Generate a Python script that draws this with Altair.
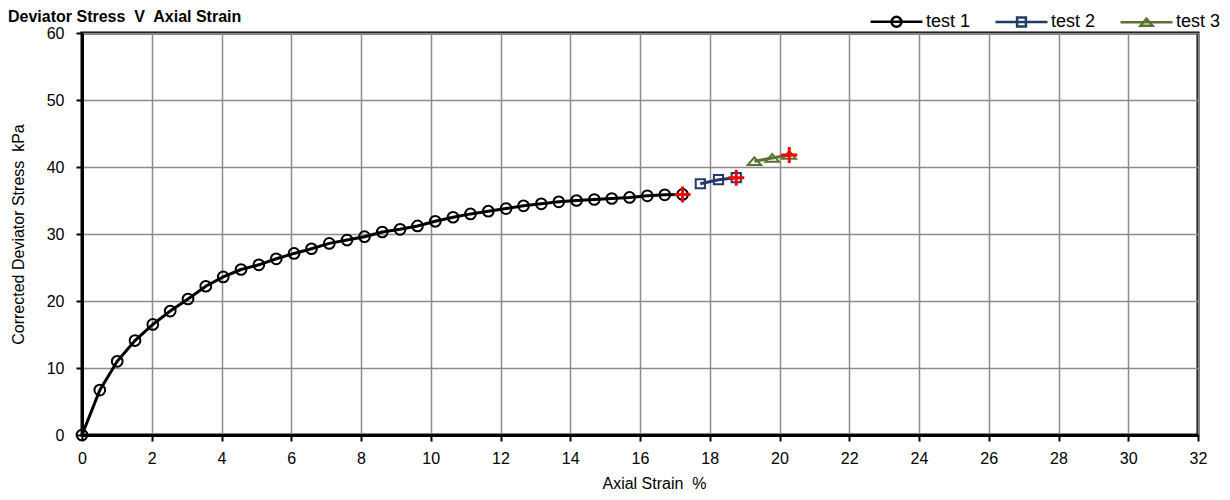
import altair as alt
import pandas as pd

# ---- data ----
chart_title = "Deviator Stress\u00a0 V\u00a0 Axial Strain"
series_names = ["test 1", "test 2", "test 3"]
series_colors = ["#000000", "#1F3B66", "#5A7332"]

strain_1 = [0.00, 0.51, 1.01, 1.52, 2.03, 2.53, 3.04, 3.55, 4.05, 4.56, 5.07, 5.57,
            6.08, 6.58, 7.09, 7.60, 8.10, 8.61, 9.12, 9.62, 10.13, 10.64, 11.14,
            11.65, 12.16, 12.66, 13.17, 13.67, 14.18, 14.69, 15.19, 15.70, 16.21,
            16.71, 17.22]
stress_1 = [0.0, 6.7, 11.0, 14.1, 16.5, 18.5, 20.3, 22.2, 23.6, 24.7, 25.4, 26.3,
            27.1, 27.8, 28.6, 29.1, 29.6, 30.3, 30.7, 31.2, 31.9, 32.5, 33.0,
            33.4, 33.8, 34.2, 34.5, 34.8, 35.0, 35.15, 35.3, 35.45, 35.7,
            35.85, 35.9]

strain_2 = [17.73, 18.25, 18.76]
stress_2 = [37.5, 38.1, 38.4]

strain_3 = [19.28, 19.79, 20.28]
stress_3 = [40.85, 41.35, 41.8]

failure_strain = [17.22, 18.76, 20.28]
failure_stress = [35.9, 38.4, 41.8]

x_ticks = list(range(0, 33, 2))
y_ticks = list(range(0, 61, 10))

FONT = "Liberation Sans"
PLOT_W, PLOT_H = 1116, 402

rows = []
for name, xs, ys in zip(series_names, [strain_1, strain_2, strain_3],
                        [stress_1, stress_2, stress_3]):
    for i, (xv, yv) in enumerate(zip(xs, ys)):
        rows.append({"series": name, "strain": xv, "stress": yv, "idx": i})
df = pd.DataFrame(rows)
fail_df = pd.DataFrame({"strain": failure_strain, "stress": failure_stress})
title_df = pd.DataFrame({"label": [chart_title]})

x_enc = alt.X("strain:Q",
              scale=alt.Scale(domain=[0, 32], nice=False, zero=False),
              axis=alt.Axis(values=x_ticks, grid=True, gridColor="#8c8c8c", gridWidth=1.5,
                            domainColor="black", domainWidth=3,
                            tickColor="black", tickWidth=2, tickSize=6,
                            labelFont=FONT, labelFontSize=16, labelColor="black",
                            labelPadding=9, labelFlush=False, labelOverlap=False,
                            title="Axial Strain\u00a0 %", titleFont=FONT, titleFontSize=16,
                            titleFontWeight="normal", titleColor="black",
                            titleX=572, titleY=48, titleAlign="center",
                            titleBaseline="middle"))
y_enc = alt.Y("stress:Q",
              scale=alt.Scale(domain=[0, 60], nice=False),
              axis=alt.Axis(values=y_ticks, grid=True, gridColor="#8c8c8c", gridWidth=1.5,
                            domainColor="black", domainWidth=3,
                            tickColor="black", tickWidth=2, tickSize=6,
                            labelFont=FONT, labelFontSize=16, labelColor="black",
                            labelPadding=12, labelOverlap=False,
                            title="Corrected Deviator Stress\u00a0 kPa", titleFont=FONT,
                            titleFontSize=16, titleFontWeight="normal", titleColor="black",
                            titleX=-64, titleY=PLOT_H / 2, titleAlign="center",
                            titleBaseline="middle", titleAngle=270))

marker_shapes = ["circle", "square", "M-1,0.55L1,0.55L0,-0.6Z"]
marker_sizes = [115, 85, 180]

layers = []
for name, col in zip(series_names, series_colors):
    sub = df[df["series"] == name]
    layers.append(
        alt.Chart(sub).mark_line(strokeWidth=3, color=col).encode(
            x=x_enc, y=y_enc, order="idx:Q")
    )
for name, col, shp, sz in zip(series_names, series_colors, marker_shapes, marker_sizes):
    sub = df[df["series"] == name]
    layers.append(
        alt.Chart(sub).mark_point(filled=False, strokeWidth=2, opacity=1, color=col,
                                  shape=shp, size=sz).encode(x=x_enc, y=y_enc)
    )

crosses = alt.Chart(fail_df).mark_point(
    shape="M-1,0H1M0,-1V1", size=256, filled=False, stroke="#FF0000",
    strokeWidth=3, opacity=1,
).encode(x=x_enc, y=y_enc)
layers.append(crosses)

legend_paths = [
    "M-1,0H1M0.19,0A0.19,0.19,0,1,1,-0.19,0A0.19,0.19,0,1,1,0.19,0",
    "M-1,0H1M-0.17,-0.17H0.17V0.17H-0.17Z",
    "M-1,0H1M-0.23,0.13H0.23L0,-0.14Z",
]
legend_layer = alt.Chart(df).mark_point(filled=False, size=2704, strokeWidth=2.5, opacity=1).encode(
    color=alt.Color("series:N", scale=alt.Scale(domain=series_names, range=series_colors),
                    legend=alt.Legend(title=None)),
    shape=alt.Shape("series:N", scale=alt.Scale(domain=series_names, range=legend_paths),
                    legend=alt.Legend(title=None)),
).transform_filter("false")
layers.append(legend_layer)

title_text = alt.Chart(title_df).mark_text(
    align="left", baseline="alphabetic", font=FONT, fontSize=16, fontWeight="bold",
    color="black",
).encode(x=alt.value(-74), y=alt.value(-10.7), text="label:N")
layers.append(title_text)

chart = alt.layer(*layers).properties(
    width=PLOT_W, height=PLOT_H,
    padding={"left": 74, "top": 25, "right": 24, "bottom": 56},
    autosize=alt.AutoSizeParams(type="none"),
).configure_view(
    stroke="black", strokeWidth=3
).configure_legend(
    orient="none", legendX=787, legendY=-39, direction="horizontal", padding=0,
    labelFont=FONT, labelFontSize=18, labelColor="black", labelOffset=2,
    columnPadding=19, symbolStrokeWidth=2.5, symbolSize=2704, labelLimit=0,
)

chart.save("out.html", embed_options={"renderer": "svg", "actions": False})
